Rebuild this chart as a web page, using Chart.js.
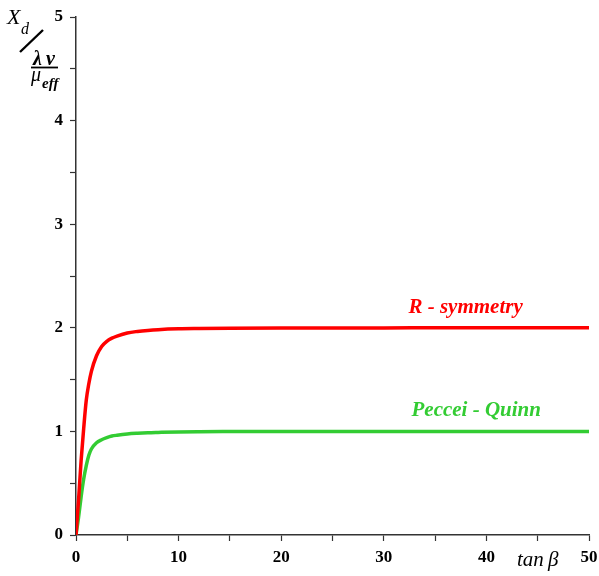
<!DOCTYPE html>
<html>
<head>
<meta charset="utf-8">
<script src="https://cdn.jsdelivr.net/npm/chart.js@4/dist/chart.umd.min.js"></script>
<style>
html,body{margin:0;padding:0;background:#fff;}
#wrap{width:599px;height:576px;}
</style>
</head>
<body>
<div id="wrap"><canvas id="c" width="599" height="576"></canvas></div>
<script>
const tanBeta = [0, 0.25, 0.5, 0.75, 1, 1.25, 1.5, 2, 2.5, 3, 3.5, 4, 5, 6, 7, 8, 10, 12, 15, 20, 30, 40, 50];
const rSymmetry = [0, 0.34, 0.72, 1.03, 1.3, 1.46, 1.58, 1.73, 1.82, 1.87, 1.9, 1.92, 1.95, 1.965, 1.975, 1.982, 1.99, 1.993, 1.996, 1.998, 1.999, 2, 2];
const pecceiQuinn = [0, 0.17, 0.37, 0.54, 0.67, 0.77, 0.83, 0.89, 0.92, 0.94, 0.955, 0.963, 0.975, 0.982, 0.987, 0.99, 0.995, 0.997, 0.998, 0.999, 1, 1, 1];
const seriesNames = ["R - symmetry", "Peccei - Quinn"];
const xTickLabels = ["0", "10", "20", "30", "40", "50"];
const yTickLabels = ["0", "1", "2", "3", "4", "5"];
const labelAnchors = [[32.4, 2.2], [32.7, 1.2]];

const RED = "#ff0000", GREEN = "#33cc33";

const textPlugin = {
  id: "texts",
  afterDraw(chart) {
    const ctx = chart.ctx;
    const xs = chart.scales.x, ys = chart.scales.y;
    ctx.save();
    ctx.textBaseline = "middle";
    ctx.textAlign = "left";
    // series labels
    ctx.font = "italic bold 21px 'Liberation Serif'";
    ctx.fillStyle = RED;
    ctx.fillText(seriesNames[0], xs.getPixelForValue(labelAnchors[0][0]), ys.getPixelForValue(labelAnchors[0][1]));
    ctx.fillStyle = GREEN;
    ctx.fillText(seriesNames[1], xs.getPixelForValue(labelAnchors[1][0]), ys.getPixelForValue(labelAnchors[1][1]));
    // x axis title
    ctx.fillStyle = "#000";
    ctx.textBaseline = "alphabetic";
    ctx.font = "italic 21px 'Liberation Serif'";
    ctx.fillText("tan", 517, 566);
    ctx.fillText("β", 548, 566);
    // y axis title
    ctx.font = "italic 22px 'Liberation Serif'";
    ctx.fillText("X", 7, 24);
    ctx.font = "italic 16px 'Liberation Serif'";
    ctx.fillText("d", 21, 34);
    ctx.strokeStyle = "#000";
    ctx.lineWidth = 2.4;
    ctx.beginPath();
    ctx.moveTo(20, 52);
    ctx.lineTo(43, 30);
    ctx.stroke();
    ctx.font = "italic bold 20px 'Liberation Serif'";
    ctx.fillText("λ", 33, 65);
    ctx.fillText("v", 46, 65);
    ctx.lineWidth = 1.8;
    ctx.beginPath();
    ctx.moveTo(31, 67.5);
    ctx.lineTo(58, 67.5);
    ctx.stroke();
    ctx.font = "italic 20px 'Liberation Serif'";
    ctx.fillText("μ", 31, 81);
    ctx.font = "italic bold 15px 'Liberation Serif'";
    ctx.fillText("eff", 42, 88);
    ctx.restore();
  }
};

new Chart(document.getElementById("c"), {
  type: "line",
  data: {
    datasets: [
      {
        label: seriesNames[0],
        data: tanBeta.map((x, i) => ({ x, y: rSymmetry[i] })),
        borderColor: RED,
        borderWidth: 3.5,
        pointRadius: 0,
        fill: false,
        cubicInterpolationMode: "monotone"
      },
      {
        label: seriesNames[1],
        data: tanBeta.map((x, i) => ({ x, y: pecceiQuinn[i] })),
        borderColor: GREEN,
        borderWidth: 3.5,
        pointRadius: 0,
        fill: false,
        cubicInterpolationMode: "monotone"
      }
    ]
  },
  options: {
    responsive: false,
    animation: false,
    devicePixelRatio: 1,
    layout: { padding: { top: 17, right: 0, left: 0, bottom: 0 } },
    plugins: { legend: { display: false }, tooltip: { enabled: false } },
    scales: {
      x: {
        type: "linear",
        min: 0, max: 50,
        afterFit(s) { s.height = 41; s.paddingRight = 10; s.paddingLeft = 0; },
        border: { color: "#333", width: 1.5 },
        grid: { drawOnChartArea: false, color: "#333", tickLength: 6, tickWidth: 1.2 },
        ticks: {
          stepSize: 5,
          autoSkip: false,
          maxRotation: 0,
          padding: 6,
          color: "#000",
          font: { family: "'Liberation Serif'", size: 17, weight: "bold" },
          callback: (v) => (v % 10 === 0 ? xTickLabels[v / 10] : "")
        }
      },
      y: {
        type: "linear",
        min: 0, max: 5,
        afterFit(s) { s.width = 76; s.paddingTop = 0; s.paddingBottom = 0; },
        border: { color: "#333", width: 1.5 },
        grid: { drawOnChartArea: false, color: "#333", tickLength: 6, tickWidth: 1.2 },
        ticks: {
          stepSize: 0.5,
          autoSkip: false,
          padding: 7,
          color: "#000",
          font: { family: "'Liberation Serif'", size: 17, weight: "bold" },
          callback: (v) => (Number.isInteger(v) ? yTickLabels[v] : "")
        }
      }
    }
  },
  plugins: [textPlugin]
});
</script>
</body>
</html>
